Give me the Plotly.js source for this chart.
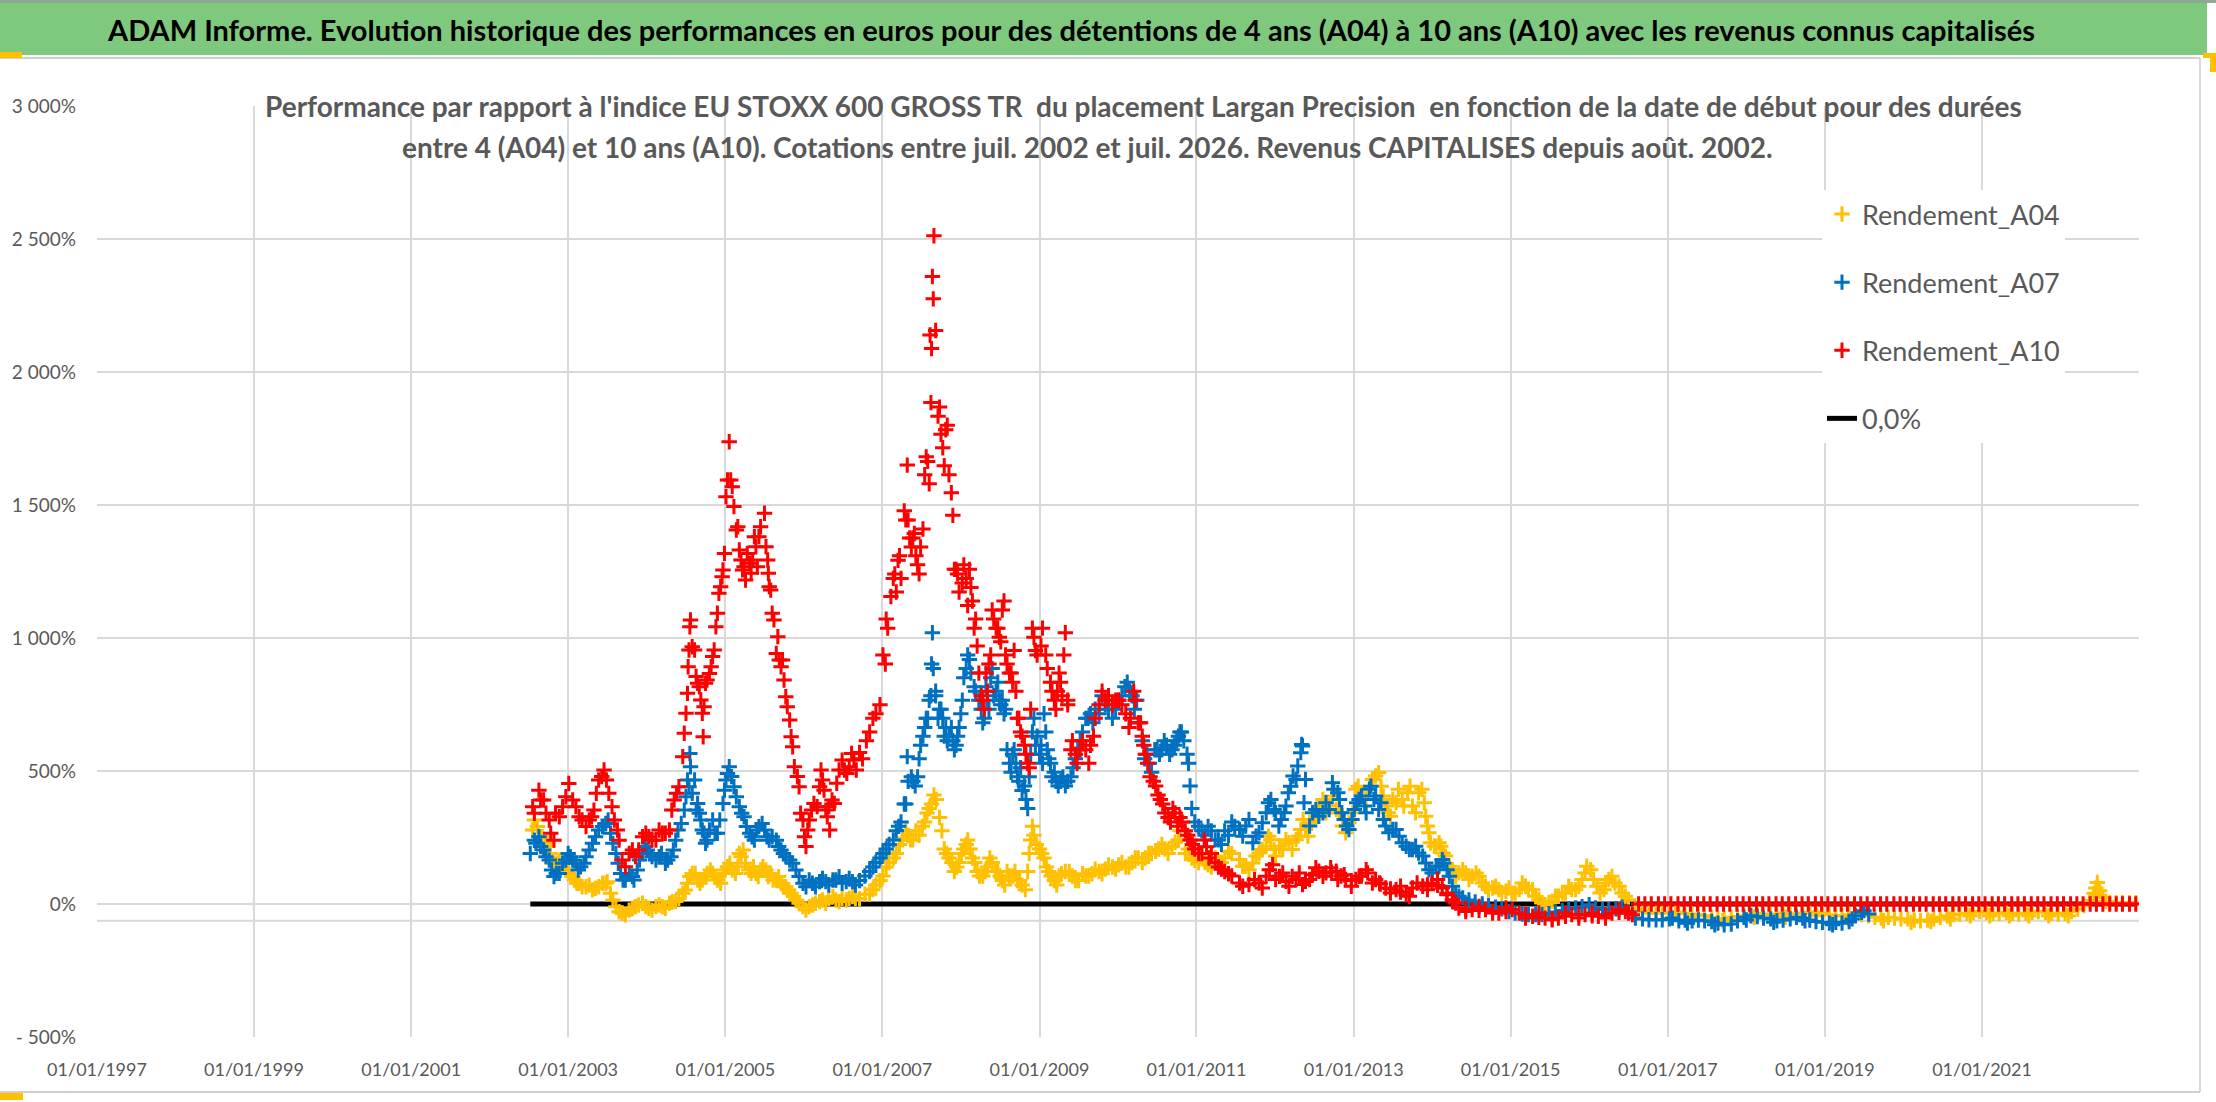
<!DOCTYPE html>
<html>
<head>
<meta charset="utf-8">
<script src="https://cdn.plot.ly/plotly-3.0.1.min.js"></script>
<style>
  html, body { margin: 0; padding: 0; background: #ffffff; }
  #graph { width: 2216px; height: 1102px; }
</style>
</head>
<body>
<div id="graph"></div>
<script>
// start dates are kept as decimal years, values in %
var a04Years = [2002.55, 2002.61, 2002.67, 2002.74, 2002.80, 2002.86, 2002.93, 2003.01, 2003.08, 2003.14, 2003.23, 2003.31, 2003.39, 2003.48, 2003.54, 2003.61, 2003.69, 2003.78, 2003.86, 2003.95,
    2004.03, 2004.12, 2004.20, 2004.29, 2004.37, 2004.46, 2004.52, 2004.58, 2004.65, 2004.71, 2004.77, 2004.84, 2004.90, 2004.97, 2005.03, 2005.09, 2005.16, 2005.20, 2005.26, 2005.33,
    2005.39, 2005.45, 2005.52, 2005.58, 2005.65, 2005.71, 2005.77, 2005.84, 2005.90, 2005.99, 2006.07, 2006.15, 2006.24, 2006.32, 2006.41, 2006.49, 2006.58, 2006.66, 2006.71, 2006.84,
    2006.92, 2007.01, 2007.09, 2007.18, 2007.26, 2007.33, 2007.39, 2007.47, 2007.54, 2007.60, 2007.66, 2007.73, 2007.79, 2007.85, 2007.92, 2007.98, 2008.04, 2008.09, 2008.15, 2008.21,
    2008.28, 2008.34, 2008.40, 2008.47, 2008.53, 2008.59, 2008.66, 2008.72, 2008.78, 2008.85, 2008.89, 2008.93, 2009.00, 2009.06, 2009.12, 2009.19, 2009.25, 2009.33, 2009.42, 2009.50,
    2009.59, 2009.67, 2009.76, 2009.84, 2009.93, 2010.01, 2010.10, 2010.18, 2010.26, 2010.35, 2010.43, 2010.52, 2010.60, 2010.69, 2010.77, 2010.86, 2010.94, 2011.03, 2011.11, 2011.19,
    2011.28, 2011.36, 2011.45, 2011.55, 2011.63, 2011.72, 2011.80, 2011.89, 2011.95, 2012.01, 2012.10, 2012.18, 2012.27, 2012.33, 2012.39, 2012.46, 2012.52, 2012.61, 2012.69, 2012.78,
    2012.86, 2012.94, 2013.03, 2013.11, 2013.20, 2013.28, 2013.35, 2013.41, 2013.47, 2013.54, 2013.62, 2013.69, 2013.75, 2013.83, 2013.90, 2013.94, 2013.98, 2014.05, 2014.11, 2014.17,
    2014.26, 2014.34, 2014.43, 2014.51, 2014.60, 2014.68, 2014.77, 2014.85, 2014.94, 2015.02, 2015.11, 2015.19, 2015.28, 2015.36, 2015.44, 2015.53, 2015.61, 2015.70, 2015.78, 2015.87,
    2015.95, 2016.02, 2016.10, 2016.19, 2016.25, 2016.33, 2016.42, 2016.50, 2016.59, 2016.68, 2016.76, 2016.85, 2016.93, 2017.02, 2017.10, 2017.14, 2017.22, 2017.31, 2017.39, 2017.47,
    2017.56, 2017.64, 2017.72, 2017.81, 2017.89, 2017.97, 2018.06, 2018.14, 2018.22, 2018.31, 2018.39, 2018.47, 2018.56, 2018.64, 2018.72, 2018.81, 2018.89, 2018.97, 2019.06, 2019.14,
    2019.22, 2019.31, 2019.39, 2019.47, 2019.56, 2019.64, 2019.72, 2019.81, 2019.89, 2019.97, 2020.06, 2020.14, 2020.22, 2020.31, 2020.39, 2020.47, 2020.56, 2020.64, 2020.72, 2020.81,
    2020.89, 2020.97, 2021.06, 2021.14, 2021.22, 2021.31, 2021.39, 2021.47, 2021.56, 2021.64, 2021.72, 2021.81, 2021.89, 2021.97, 2022.06, 2022.14, 2022.22, 2022.30, 2022.37, 2022.43,
    2022.47, 2022.50, 2022.54, 2022.58, 2022.63, 2022.71, 2022.79, 2022.88, 2022.96];
var a04Values = [278, 291, 253, 216, 153, 153, 140, 115, 90, 78, 65, 53, 65, 78, 40, -10, -35, -23, -10, 3,
    -16, -10, -10, 3, 9, 40, 78, 115, 90, 90, 115, 115, 90, 115, 140, 128, 140, 178, 153, 115,
    115, 128, 128, 115, 90, 78, 65, 40, 15, -10, -10, 3, 15, 21, 15, 21, 21, 21, 20, 37,
    71, 105, 156, 190, 241, 258, 241, 258, 308, 359, 410, 325, 207, 173, 122, 156, 207, 241, 173, 122,
    105, 139, 156, 122, 88, 122, 105, 88, 71, 122, 241, 258, 207, 173, 122, 88, 105, 122, 105, 88,
    105, 114, 122, 131, 139, 147, 139, 156, 173, 173, 190, 207, 207, 215, 241, 190, 173, 156, 156, 139,
    156, 173, 190, 167, 142, 154, 192, 217, 242, 180, 205, 230, 242, 280, 280, 305, 330, 393, 368, 355,
    293, 305, 431, 418, 443, 481, 443, 368, 330, 381, 393, 418, 368, 418, 381, 293, 230, 217, 217, 180,
    129, 117, 117, 104, 104, 67, 60, 54, 48, 41, 54, 67, 54, 16, -3, 10, 29, 41, 54, 67,
    117, 129, 67, 54, 92, 79, 41, 16, -21, -28, -34, -34, -34, -34, -34, -31, -35, -38, -40, -44,
    -50, -56, -56, -50, -47, -44, -38, -35, -38, -40, -38, -35, -38, -38, -35, -31, -31, -35, -40, -44,
    -44, -40, -38, -40, -44, -50, -53, -50, -53, -56, -56, -60, -63, -60, -56, -50, -44, -40, -38, -35,
    -31, -28, -31, -35, -35, -31, -35, -38, -35, -31, -28, -31, -35, -38, -35, -28, -19, -6, 13, 40,
    81, 50, 25, 10, 6, 5, 5, 5, 5];
// second reading pass across the width of the A04 band: [year, %]
var a04Band = [[2002.57, 316], [2002.64, 253], [2002.71, 228], [2002.77, 190], [2002.83, 153], [2002.89, 165], [2002.97, 128], [2003.05, 103], [2003.11, 78], [2003.18, 65],
    [2003.27, 71], [2003.35, 59], [2003.44, 78], [2003.50, 84], [2003.57, 15], [2003.65, -29], [2003.73, -41], [2003.82, -16], [2003.90, -4], [2003.99, -10],
    [2004.07, -23], [2004.16, -4], [2004.24, -16], [2004.33, 9], [2004.41, 21], [2004.49, 53], [2004.55, 103], [2004.62, 115], [2004.68, 78], [2004.75, 103],
    [2004.81, 128], [2004.87, 103], [2004.94, 78], [2005.00, 128], [2005.06, 153], [2005.13, 115], [2005.18, 190], [2005.23, 203], [2005.30, 128], [2005.36, 140],
    [2005.42, 103], [2005.48, 140], [2005.55, 103], [2005.61, 90], [2005.68, 103], [2005.74, 65], [2005.81, 53], [2005.87, 28], [2005.94, 3], [2006.03, -23],
    [2006.11, -4], [2006.20, 9], [2006.28, 3], [2006.37, 28], [2006.45, 9], [2006.54, 15], [2006.62, 28], [2006.78, 37], [2006.88, 54], [2006.97, 88],
    [2007.05, 139], [2007.14, 173], [2007.22, 224], [2007.30, 275], [2007.36, 241], [2007.43, 275], [2007.51, 292], [2007.57, 342], [2007.63, 376], [2007.69, 393],
    [2007.76, 275], [2007.82, 190], [2007.89, 156], [2007.95, 139], [2008.01, 190], [2008.07, 224], [2008.12, 207], [2008.18, 156], [2008.24, 105], [2008.31, 122],
    [2008.37, 173], [2008.44, 122], [2008.50, 105], [2008.56, 71], [2008.62, 105], [2008.69, 122], [2008.75, 88], [2008.82, 54], [2008.87, 190], [2008.91, 292],
    [2008.96, 224], [2009.03, 190], [2009.09, 139], [2009.15, 105], [2009.22, 71], [2009.28, 114], [2009.38, 122], [2009.46, 88], [2009.55, 114], [2009.63, 105],
    [2009.71, 131], [2009.80, 114], [2009.88, 147], [2009.97, 131], [2010.05, 156], [2010.14, 139], [2010.22, 173], [2010.31, 156], [2010.39, 190], [2010.48, 198],
    [2010.56, 224], [2010.64, 190], [2010.73, 232], [2010.79, 275], [2010.90, 207], [2010.98, 164], [2011.07, 190], [2011.15, 147], [2011.24, 173], [2011.32, 156],
    [2011.41, 198], [2011.59, 142], [2011.67, 129], [2011.76, 180], [2011.84, 205], [2011.92, 255], [2011.99, 205], [2012.06, 217], [2012.14, 242], [2012.22, 205],
    [2012.30, 255], [2012.36, 318], [2012.42, 255], [2012.49, 318], [2012.56, 368], [2012.65, 343], [2012.73, 406], [2012.82, 343], [2012.90, 268], [2012.99, 343],
    [2013.06, 443], [2013.16, 393], [2013.24, 468], [2013.32, 494], [2013.38, 406], [2013.44, 343], [2013.50, 393], [2013.57, 431], [2013.64, 368], [2013.72, 443],
    [2013.79, 343], [2013.87, 431], [2013.92, 330], [2013.96, 268], [2014.03, 217], [2014.09, 230], [2014.14, 192], [2014.22, 142], [2014.30, 104], [2014.39, 129],
    [2014.47, 92], [2014.56, 117], [2014.64, 79], [2014.72, 54], [2014.81, 67], [2014.89, 41], [2014.98, 60], [2015.06, 41], [2015.15, 79], [2015.23, 54],
    [2015.32, 29], [2015.40, 4], [2015.49, 4], [2015.57, 29], [2015.66, 41], [2015.74, 67], [2015.83, 54], [2015.91, 92], [2015.97, 142], [2016.06, 92],
    [2016.14, 41], [2016.21, 79], [2016.29, 104], [2016.38, 67], [2016.46, 29], [2017.30, -50], [2017.70, -63], [2018.10, -50], [2018.50, -50], [2018.90, -44],
    [2019.30, -56], [2019.75, -63], [2020.10, -69], [2020.35, -66], [2020.60, -56], [2020.85, -44], [2021.10, -44], [2021.35, -44], [2021.60, -44], [2021.85, -44],
    [2022.10, -44], [2022.45, 60], [2022.46, 30]];

var a07Years = [2002.52, 2002.59, 2002.63, 2002.69, 2002.76, 2002.82, 2002.89, 2002.97, 2003.03, 2003.10, 2003.16, 2003.23, 2003.31, 2003.39, 2003.48, 2003.54, 2003.61, 2003.67, 2003.73, 2003.82,
    2003.88, 2003.95, 2004.01, 2004.07, 2004.16, 2004.24, 2004.31, 2004.37, 2004.44, 2004.48, 2004.52, 2004.55, 2004.56, 2004.61, 2004.65, 2004.69, 2004.73, 2004.77, 2004.84, 2004.90,
    2004.97, 2005.01, 2005.05, 2005.11, 2005.18, 2005.24, 2005.31, 2005.37, 2005.43, 2005.50, 2005.56, 2005.65, 2005.71, 2005.77, 2005.86, 2005.94, 2006.03, 2006.11, 2006.20, 2006.28,
    2006.37, 2006.45, 2006.54, 2006.62, 2006.71, 2006.84, 2006.92, 2007.01, 2007.09, 2007.18, 2007.24, 2007.28, 2007.32, 2007.33, 2007.39, 2007.45, 2007.49, 2007.54, 2007.58, 2007.62,
    2007.64, 2007.65, 2007.68, 2007.73, 2007.77, 2007.81, 2007.85, 2007.90, 2007.94, 2007.98, 2008.02, 2008.07, 2008.11, 2008.17, 2008.23, 2008.28, 2008.32, 2008.36, 2008.40, 2008.45,
    2008.49, 2008.53, 2008.57, 2008.62, 2008.66, 2008.70, 2008.74, 2008.78, 2008.83, 2008.87, 2008.91, 2008.95, 2009.00, 2009.04, 2009.08, 2009.12, 2009.16, 2009.21, 2009.27, 2009.33,
    2009.40, 2009.46, 2009.52, 2009.59, 2009.65, 2009.71, 2009.80, 2009.88, 2009.97, 2010.05, 2010.12, 2010.18, 2010.24, 2010.31, 2010.37, 2010.43, 2010.50, 2010.56, 2010.62, 2010.69,
    2010.75, 2010.79, 2010.84, 2010.90, 2010.92, 2010.94, 2010.98, 2011.07, 2011.15, 2011.24, 2011.32, 2011.41, 2011.49, 2011.55, 2011.63, 2011.72, 2011.80, 2011.89, 2011.95, 2012.01,
    2012.08, 2012.14, 2012.20, 2012.27, 2012.33, 2012.34, 2012.37, 2012.44, 2012.52, 2012.61, 2012.69, 2012.75, 2012.82, 2012.88, 2012.94, 2013.01, 2013.07, 2013.14, 2013.20, 2013.28,
    2013.35, 2013.41, 2013.50, 2013.58, 2013.67, 2013.75, 2013.83, 2013.92, 2014.00, 2014.09, 2014.15, 2014.22, 2014.30, 2014.39, 2014.47, 2014.55, 2014.64, 2014.72, 2014.81, 2014.89,
    2014.98, 2015.06, 2015.15, 2015.23, 2015.32, 2015.40, 2015.49, 2015.57, 2015.66, 2015.74, 2015.83, 2015.91, 2016.00, 2016.08, 2016.17, 2016.25, 2016.34, 2016.42, 2016.50, 2016.59,
    2016.68, 2016.76, 2016.85, 2016.93, 2017.02, 2017.06, 2017.14, 2017.22, 2017.31, 2017.39, 2017.47, 2017.56, 2017.64, 2017.72, 2017.81, 2017.89, 2017.97, 2018.06, 2018.14, 2018.22,
    2018.31, 2018.39, 2018.47, 2018.56, 2018.64, 2018.72, 2018.81, 2018.89, 2018.97, 2019.06, 2019.14, 2019.22, 2019.31, 2019.39, 2019.47, 2019.56];
var a07Values = [190, 228, 253, 203, 165, 103, 115, 165, 178, 153, 140, 178, 228, 278, 303, 266, 190, 115, 90, 103,
    128, 190, 203, 178, 178, 153, 178, 240, 303, 353, 466, 566, 516, 466, 378, 316, 266, 240, 316, 266,
    378, 466, 516, 441, 366, 328, 266, 240, 291, 278, 240, 240, 203, 178, 153, 103, 65, 78, 84, 84,
    90, 103, 84, 84, 88, 122, 156, 190, 224, 275, 308, 376, 554, 461, 461, 478, 597, 664, 698, 783,
    1020, 885, 800, 732, 698, 664, 631, 614, 597, 664, 766, 885, 919, 817, 766, 681, 817, 732, 885, 800,
    766, 766, 732, 529, 563, 529, 461, 427, 393, 478, 647, 597, 563, 529, 647, 546, 478, 461, 461, 444,
    478, 546, 614, 698, 715, 732, 783, 732, 732, 783, 834, 783, 766, 614, 563, 495, 580, 580, 597, 580,
    614, 647, 614, 529, 444, 359, 308, 275, 292, 241, 224, 258, 292, 280, 293, 230, 268, 343, 393, 343,
    318, 368, 443, 468, 569, 600, 381, 293, 355, 343, 355, 431, 393, 318, 280, 355, 393, 368, 431, 406,
    381, 293, 280, 255, 217, 205, 192, 154, 117, 142, 154, 104, 41, 23, 15, 8, 0, -5, -12, -18,
    -28, -34, -38, -40, -40, -40, -36, -30, -24, -18, -15, -10, -3, -15, -21, -21, -18, -12, -30, -53,
    -56, -59, -59, -59, -56, -53, -63, -60, -63, -60, -63, -66, -72, -78, -75, -63, -50, -44, -47, -53,
    -56, -63, -60, -56, -50, -53, -60, -66, -69, -72, -69, -72, -66, -44, -31, -38];
var a07Band = [[2002.57, 240], [2002.65, 216], [2002.72, 178], [2002.79, 128], [2002.85, 115], [2002.93, 153], [2003.00, 190], [2003.06, 165], [2003.13, 128], [2003.20, 153],
    [2003.27, 203], [2003.35, 253], [2003.44, 291], [2003.51, 316], [2003.57, 228], [2003.64, 153], [2003.70, 90], [2003.78, 115], [2003.84, 90], [2003.91, 165],
    [2003.98, 216], [2004.04, 190], [2004.12, 165], [2004.19, 190], [2004.27, 165], [2004.34, 203], [2004.40, 278], [2004.50, 403], [2004.54, 441], [2004.58, 416],
    [2004.63, 353], [2004.67, 341], [2004.71, 278], [2004.75, 228], [2004.80, 278], [2004.87, 266], [2004.93, 316], [2004.99, 428], [2005.03, 491], [2005.08, 479],
    [2005.14, 403], [2005.21, 341], [2005.27, 291], [2005.34, 253], [2005.40, 278], [2005.47, 303], [2005.53, 253], [2005.60, 253], [2005.68, 216], [2005.74, 190],
    [2005.82, 165], [2005.90, 128], [2005.99, 78], [2006.07, 90], [2006.15, 65], [2006.24, 96], [2006.32, 71], [2006.41, 90], [2006.49, 78], [2006.58, 96],
    [2006.66, 71], [2006.78, 105], [2006.88, 139], [2006.97, 173], [2007.05, 207], [2007.14, 241], [2007.21, 292], [2007.30, 376], [2007.37, 478], [2007.42, 444],
    [2007.47, 546], [2007.52, 631], [2007.56, 698], [2007.60, 766], [2007.63, 902], [2007.68, 783], [2007.71, 698], [2007.75, 732], [2007.79, 631], [2007.83, 614],
    [2007.88, 664], [2007.92, 580], [2007.96, 631], [2008.00, 715], [2008.04, 851], [2008.09, 936], [2008.13, 868], [2008.19, 800], [2008.26, 732], [2008.30, 698],
    [2008.34, 766], [2008.38, 851], [2008.42, 783], [2008.47, 834], [2008.51, 749], [2008.55, 715], [2008.59, 580], [2008.64, 495], [2008.68, 580], [2008.72, 478],
    [2008.76, 512], [2008.81, 444], [2008.85, 359], [2008.89, 563], [2008.93, 698], [2008.97, 631], [2009.02, 597], [2009.06, 715], [2009.10, 580], [2009.14, 529],
    [2009.19, 495], [2009.24, 444], [2009.30, 478], [2009.36, 461], [2009.43, 512], [2009.49, 580], [2009.55, 647], [2009.62, 698], [2009.68, 681], [2009.76, 715],
    [2009.84, 749], [2009.93, 698], [2010.01, 766], [2010.09, 817], [2010.15, 800], [2010.21, 732], [2010.27, 681], [2010.34, 546], [2010.40, 529], [2010.47, 580],
    [2010.53, 563], [2010.59, 614], [2010.66, 563], [2010.72, 597], [2010.77, 631], [2010.81, 647], [2010.88, 563], [2011.03, 292], [2011.11, 258], [2011.19, 275],
    [2011.28, 241], [2011.36, 275], [2011.45, 308], [2011.59, 255], [2011.67, 318], [2011.76, 255], [2011.84, 305], [2011.92, 381], [2011.99, 355], [2012.05, 293],
    [2012.12, 343], [2012.17, 418], [2012.23, 481], [2012.29, 519], [2012.35, 594], [2012.39, 468], [2012.48, 343], [2012.56, 330], [2012.65, 381], [2012.73, 456],
    [2012.80, 418], [2012.85, 343], [2012.91, 293], [2012.98, 318], [2013.04, 381], [2013.10, 406], [2013.16, 343], [2013.22, 443], [2013.26, 393], [2013.32, 355],
    [2013.38, 318], [2013.45, 268], [2013.54, 280], [2013.62, 230], [2013.71, 205], [2013.79, 217], [2013.88, 180], [2013.96, 129], [2014.05, 142], [2014.13, 167],
    [2014.19, 129], [2014.26, 67], [2014.34, 29], [2017.25, -72], [2017.60, -78], [2018.00, -60], [2018.35, -69], [2018.75, -63], [2019.10, -78], [2019.35, -56],
    [2019.50, -25]];

var a10Years = [2002.55, 2002.63, 2002.69, 2002.76, 2002.82, 2002.84, 2002.93, 2003.01, 2003.10, 2003.18, 2003.27, 2003.33, 2003.39, 2003.46, 2003.52, 2003.59, 2003.65, 2003.69, 2003.78, 2003.86,
    2003.95, 2004.03, 2004.12, 2004.20, 2004.29, 2004.35, 2004.41, 2004.46, 2004.48, 2004.50, 2004.52, 2004.54, 2004.56, 2004.61, 2004.63, 2004.67, 2004.71, 2004.72, 2004.75, 2004.80,
    2004.84, 2004.88, 2004.92, 2004.96, 2004.99, 2005.01, 2005.05, 2005.07, 2005.11, 2005.14, 2005.18, 2005.22, 2005.26, 2005.31, 2005.35, 2005.39, 2005.43, 2005.50, 2005.54, 2005.56,
    2005.60, 2005.67, 2005.69, 2005.73, 2005.77, 2005.82, 2005.86, 2005.92, 2005.96, 2006.01, 2006.03, 2006.07, 2006.13, 2006.20, 2006.24, 2006.28, 2006.32, 2006.33, 2006.39, 2006.45,
    2006.52, 2006.58, 2006.64, 2006.71, 2006.80, 2006.88, 2006.97, 2007.01, 2007.07, 2007.11, 2007.16, 2007.20, 2007.24, 2007.28, 2007.32, 2007.33, 2007.35, 2007.39, 2007.43, 2007.47,
    2007.52, 2007.54, 2007.58, 2007.62, 2007.63, 2007.65, 2007.66, 2007.68, 2007.73, 2007.77, 2007.81, 2007.85, 2007.90, 2007.92, 2007.96, 2008.02, 2008.07, 2008.11, 2008.15, 2008.19,
    2008.23, 2008.26, 2008.30, 2008.34, 2008.38, 2008.42, 2008.47, 2008.51, 2008.55, 2008.59, 2008.64, 2008.68, 2008.72, 2008.76, 2008.81, 2008.85, 2008.87, 2008.89, 2008.91, 2008.95,
    2009.02, 2009.08, 2009.14, 2009.19, 2009.23, 2009.27, 2009.31, 2009.36, 2009.40, 2009.46, 2009.52, 2009.59, 2009.65, 2009.69, 2009.76, 2009.84, 2009.93, 2010.01, 2010.10, 2010.16,
    2010.22, 2010.26, 2010.31, 2010.35, 2010.41, 2010.48, 2010.54, 2010.60, 2010.67, 2010.73, 2010.79, 2010.86, 2010.92, 2010.98, 2011.07, 2011.13, 2011.19, 2011.28, 2011.36, 2011.45,
    2011.55, 2011.67, 2011.80, 2011.89, 2011.97, 2012.06, 2012.14, 2012.22, 2012.31, 2012.39, 2012.48, 2012.56, 2012.65, 2012.72, 2012.78, 2012.84, 2012.90, 2012.97, 2013.03, 2013.10,
    2013.18, 2013.28, 2013.34, 2013.41, 2013.47, 2013.54, 2013.60, 2013.67, 2013.75, 2013.88, 2013.94, 2014.00, 2014.07, 2014.13, 2014.19, 2014.26, 2014.34, 2014.43, 2014.51, 2014.60,
    2014.68, 2014.77, 2014.85, 2014.94, 2015.02, 2015.11, 2015.19, 2015.28, 2015.36, 2015.44, 2015.53, 2015.61, 2015.70, 2015.78, 2015.87, 2015.95, 2016.04, 2016.12, 2016.21, 2016.29,
    2016.38, 2016.46, 2016.55];
var a10Values = [366, 428, 391, 316, 240, 341, 366, 453, 366, 316, 316, 353, 466, 504, 416, 316, 240, 165, 190, 178,
    253, 253, 240, 266, 278, 391, 441, 554, 642, 717, 792, 955, 1068, 955, 855, 817, 717, 629, 830, 867,
    930, 1042, 1168, 1230, 1318, 1531, 1738, 1594, 1494, 1406, 1331, 1256, 1218, 1281, 1293, 1343, 1381, 1469, 1293, 1193,
    1093, 1005, 917, 917, 779, 692, 591, 479, 341, 253, 216, 316, 378, 441, 466, 353, 366, 278, 378, 504,
    504, 516, 541, 570, 614, 698, 749, 936, 1037, 1156, 1241, 1292, 1224, 1478, 1650, 1444, 1376, 1376, 1309, 1241,
    1410, 1614, 1664, 1885, 2088, 2275, 2512, 2156, 1868, 1715, 1783, 1614, 1461, 1258, 1241, 1207, 1224, 1258, 1139, 1071,
    868, 783, 732, 800, 936, 1071, 1037, 986, 1139, 902, 868, 953, 698, 647, 597, 529, 512, 732, 1037, 953,
    970, 936, 834, 766, 800, 834, 936, 766, 580, 563, 580, 580, 597, 631, 749, 766, 749, 766, 715, 698,
    766, 681, 631, 563, 478, 444, 393, 342, 308, 342, 325, 275, 241, 207, 190, 215, 190, 139, 122, 105,
    79, 73, 79, 104, 148, 104, 85, 104, 117, 85, 110, 123, 117, 120, 123, 105, 92, 88, 92, 105,
    117, 92, 75, 60, 57, 54, 45, 35, 60, 67, 72, 79, 70, 60, 40, 16, -15, -18, -21, -24,
    -21, -28, -34, -28, -21, -34, -40, -46, -50, -53, -56, -53, -46, -40, -40, -40, -44, -46, -40, -34,
    -31, -28, -40];
var a10Band = [[2002.57, 341], [2002.65, 391], [2002.72, 341], [2002.78, 266], [2002.89, 328], [2002.97, 403], [2003.06, 391], [2003.14, 328], [2003.23, 291], [2003.30, 328],
    [2003.36, 416], [2003.43, 479], [2003.49, 466], [2003.56, 366], [2003.63, 278], [2003.73, 140], [2003.82, 203], [2003.90, 203], [2003.99, 266], [2004.07, 240],
    [2004.16, 278], [2004.24, 266], [2004.32, 353], [2004.38, 416], [2004.53, 892], [2004.55, 1042], [2004.58, 967], [2004.65, 830], [2004.69, 767], [2004.73, 742],
    [2004.77, 842], [2004.82, 892], [2004.86, 955], [2004.90, 1093], [2004.94, 1193], [2004.97, 1256], [2005.03, 1594], [2005.09, 1569], [2005.16, 1418], [2005.20, 1293],
    [2005.24, 1268], [2005.28, 1318], [2005.33, 1243], [2005.37, 1381], [2005.41, 1268], [2005.45, 1418], [2005.52, 1343], [2005.55, 1243], [2005.58, 1180], [2005.62, 1068],
    [2005.65, 942], [2005.71, 892], [2005.75, 842], [2005.79, 742], [2005.84, 629], [2005.88, 516], [2005.94, 441], [2005.99, 316], [2006.05, 278], [2006.10, 353],
    [2006.17, 366], [2006.22, 504], [2006.26, 428], [2006.30, 328], [2006.36, 391], [2006.42, 454], [2006.49, 541], [2006.55, 491], [2006.61, 566], [2006.67, 504],
    [2006.75, 546], [2006.84, 647], [2006.92, 715], [2007.04, 902], [2007.05, 1071], [2007.14, 1224], [2007.18, 1173], [2007.22, 1309], [2007.30, 1444], [2007.37, 1342],
    [2007.41, 1393], [2007.45, 1275], [2007.49, 1342], [2007.56, 1681], [2007.60, 1580], [2007.61, 2139], [2007.64, 2359], [2007.71, 1834], [2007.75, 1766], [2007.79, 1648],
    [2007.83, 1800], [2007.88, 1546], [2007.94, 1258], [2007.98, 1173], [2008.04, 1275], [2008.09, 1122], [2008.13, 1190], [2008.17, 1037], [2008.21, 970], [2008.28, 766],
    [2008.32, 868], [2008.36, 902], [2008.40, 1105], [2008.45, 1037], [2008.49, 1003], [2008.53, 1105], [2008.57, 936], [2008.62, 868], [2008.66, 834], [2008.70, 800],
    [2008.74, 698], [2008.78, 631], [2008.83, 563], [2008.93, 1003], [2008.97, 936], [2009.04, 1037], [2009.10, 885], [2009.16, 800], [2009.21, 732], [2009.25, 868],
    [2009.29, 783], [2009.33, 1020], [2009.36, 749], [2009.42, 614], [2009.48, 529], [2009.55, 614], [2009.63, 529], [2009.71, 698], [2009.80, 800], [2009.88, 783],
    [2009.97, 766], [2010.05, 749], [2010.14, 664], [2010.20, 800], [2010.29, 681], [2010.33, 597], [2010.38, 529], [2010.45, 461], [2010.51, 410], [2010.57, 376],
    [2010.64, 325], [2010.70, 359], [2010.76, 292], [2010.82, 308], [2010.89, 258], [2010.95, 224], [2011.03, 190], [2011.10, 241], [2011.16, 173], [2011.24, 156],
    [2011.32, 131], [2011.41, 114], [2011.59, 67], [2011.74, 92], [2011.84, 60], [2011.93, 129], [2012.01, 92], [2012.10, 117], [2012.18, 67], [2012.27, 92],
    [2012.35, 73], [2012.44, 92], [2012.52, 136], [2012.61, 104], [2012.71, 136], [2012.80, 92], [2012.88, 110], [2012.97, 67], [2013.07, 104], [2013.16, 129],
    [2013.24, 79], [2013.33, 79], [2013.47, 41], [2013.60, 67], [2013.71, 29], [2013.81, 79], [2013.94, 54], [2014.07, 92], [2014.19, 35], [2014.30, 4],
    [2014.43, -28], [2014.60, -9], [2014.77, -34], [2014.94, -15], [2015.19, -53], [2015.36, -34], [2015.53, -59], [2015.70, -34], [2015.87, -53], [2016.04, -34],
    [2016.21, -53], [2016.38, -21], [2016.50, -34]];
// after the last A10 start date the series stays at 0
var a10TailYears = [2016.63, 2016.71, 2016.79, 2016.88, 2016.96,
    2017.04, 2017.13, 2017.21, 2017.29, 2017.38, 2017.46, 2017.54, 2017.63, 2017.71, 2017.79, 2017.88, 2017.96,
    2018.04, 2018.13, 2018.21, 2018.29, 2018.38, 2018.46, 2018.54, 2018.63, 2018.71, 2018.79, 2018.88, 2018.96,
    2019.04, 2019.13, 2019.21, 2019.29, 2019.38, 2019.46, 2019.54, 2019.63, 2019.71, 2019.79, 2019.88, 2019.96,
    2020.04, 2020.13, 2020.21, 2020.29, 2020.38, 2020.46, 2020.54, 2020.63, 2020.71, 2020.79, 2020.88, 2020.96,
    2021.04, 2021.13, 2021.21, 2021.29, 2021.38, 2021.46, 2021.54, 2021.63, 2021.71, 2021.79, 2021.88, 2021.96,
    2022.04, 2022.13, 2022.21, 2022.29, 2022.38, 2022.46, 2022.54, 2022.63, 2022.71, 2022.79, 2022.88, 2022.96];
var a10TailValues = [0, 0, 0, 0, 0,
    0, 0, 0, 0, 0, 0, 0, 0, 0, 0, 0, 0,
    0, 0, 0, 0, 0, 0, 0, 0, 0, 0, 0, 0,
    0, 0, 0, 0, 0, 0, 0, 0, 0, 0, 0, 0,
    0, 0, 0, 0, 0, 0, 0, 0, 0, 0, 0, 0,
    0, 0, 0, 0, 0, 0, 0, 0, 0, 0, 0, 0,
    0, 0, 0, 0, 0, 0, 0, 0, 0, 0, 0, 0];

var zeroYears = [2002.52, 2022.96];
var zeroValues = [0, 0];

var seriesNames = ['Rendement_A04', 'Rendement_A07', 'Rendement_A10', '0,0%'];
var seriesColors = ['#FFC000', '#0070C0', '#FF0000', '#000000'];

var xTickYears = [1997, 1999, 2001, 2003, 2005, 2007, 2009, 2011, 2013, 2015, 2017, 2019, 2021];
var yTickValues = [-500, 0, 500, 1000, 1500, 2000, 2500, 3000];
var yTickText = ['- 500%', '0%', '500%', '1 000%', '1 500%', '2 000%', '2 500%', '3 000%'];
var axisCrossValue = -63;

var titleText = "ADAM Informe. Evolution historique des performances en euros pour des détentions de 4 ans (A04) à 10 ans (A10) avec les revenus connus capitalisés";
var subTitle1 = "Performance par rapport à l'indice EU STOXX 600 GROSS TR  du placement Largan Precision  en fonction de la date de début pour des durées";
var subTitle2 = "entre 4 (A04) et 10 ans (A10). Cotations entre juil. 2002 et juil. 2026. Revenus CAPITALISES depuis août. 2002.";

function toDate(y) {
    var yr = Math.floor(y);
    var t0 = Date.UTC(yr, 0, 1), t1 = Date.UTC(yr + 1, 0, 1);
    return new Date(t0 + (y - yr) * (t1 - t0)).toISOString().slice(0, 10);
}

var FONT = 'Lato, "Open Sans", sans-serif';
var GRID = '#D9D9D9';
var TXT = '#595959';

// page geometry (pixels) -> paper coordinates
var W = 2216, H = 1102, ML = 97, MR = 77, MT = 106, MB = 65;
function px(x) { return (x - ML) / (W - ML - MR); }
function py(y) { return (H - MB - y) / (H - MT - MB); }

function crossTrace(i, years, values, band) {
    var xs = years.concat(band.map(function (p) { return p[0]; }));
    var ys = values.concat(band.map(function (p) { return p[1]; }));
    return {
        type: 'scatter',
        mode: 'markers',
        name: seriesNames[i],
        legendgroup: 'g' + i,
        legendrank: i + 1,
        x: xs.map(toDate),
        y: ys,
        marker: {
            symbol: 'cross-thin',
            size: 11,
            color: seriesColors[i],
            line: { color: seriesColors[i], width: 3 }
        },
        hoverinfo: 'skip'
    };
}

var plot_data = [
    {
        type: 'scatter',
        mode: 'lines',
        name: seriesNames[3],
        legendgroup: 'g3',
        legendrank: 4,
        x: zeroYears.map(toDate),
        y: zeroValues,
        line: { color: seriesColors[3], width: 5 },
        hoverinfo: 'skip'
    },
    crossTrace(0, a04Years, a04Values, a04Band),
    crossTrace(1, a07Years, a07Values, a07Band),
    crossTrace(2, a10Years.concat(a10TailYears), a10Values.concat(a10TailValues), a10Band)
];

var layout = {
    width: W,
    height: H,
    paper_bgcolor: '#ffffff',
    plot_bgcolor: '#ffffff',
    font: { family: FONT, color: TXT },
    margin: { l: ML, r: MR, t: MT, b: MB, pad: 0 },
    showlegend: true,
    legend: {
        x: px(1822),
        y: py(190),
        xanchor: 'left',
        yanchor: 'top',
        bgcolor: '#ffffff',
        borderwidth: 0,
        font: { family: FONT, size: 27, color: TXT },
        tracegroupgap: 30,
        itemwidth: 30,
        traceorder: 'grouped'
    },
    xaxis: {
        type: 'date',
        range: [toDate(1997), toDate(2023)],
        tickvals: xTickYears.map(toDate),
        ticktext: xTickYears.map(function (y) { return '01/01/' + y; }),
        showgrid: true,
        gridcolor: GRID,
        gridwidth: 2,
        zeroline: false,
        showline: false,
        ticks: '',
        ticklabelstandoff: 20,
        tickfont: { family: FONT, size: 18, color: TXT },
        fixedrange: true
    },
    yaxis: {
        range: [-500, 3000],
        tickvals: yTickValues,
        ticktext: yTickText,
        showgrid: true,
        gridcolor: GRID,
        gridwidth: 2,
        zeroline: false,
        showline: false,
        ticks: '',
        ticklabelstandoff: 20,
        tickfont: { family: FONT, size: 19, color: TXT },
        fixedrange: true
    },
    shapes: [
        // green title band
        { type: 'rect', xref: 'paper', yref: 'paper', x0: px(0), x1: px(2207), y0: py(3), y1: py(55),
          fillcolor: '#7FC97F', line: { width: 0 } },
        { type: 'rect', xref: 'paper', yref: 'paper', x0: px(0), x1: px(2216), y0: py(0), y1: py(3),
          fillcolor: '#8FA88F', line: { width: 0 } },
        { type: 'line', xref: 'paper', yref: 'paper', x0: px(0), x1: px(2200), y0: py(58), y1: py(58),
          line: { color: '#D0D0D0', width: 2 } },
        { type: 'line', xref: 'paper', yref: 'paper', x0: px(2200), x1: px(2200), y0: py(58), y1: py(1092),
          line: { color: GRID, width: 2 } },
        { type: 'line', xref: 'paper', yref: 'paper', x0: px(0), x1: px(2200), y0: py(1092), y1: py(1092),
          line: { color: '#D0D0D0', width: 2 } },
        { type: 'rect', xref: 'paper', yref: 'paper', x0: px(0), x1: px(22), y0: py(52), y1: py(58),
          fillcolor: '#FFC000', line: { width: 0 } },
        { type: 'rect', xref: 'paper', yref: 'paper', x0: px(0), x1: px(23), y0: py(1093), y1: py(1100),
          fillcolor: '#FFC000', line: { width: 0 } },
        { type: 'rect', xref: 'paper', yref: 'paper', x0: px(2203), x1: px(2216), y0: py(53), y1: py(58),
          fillcolor: '#FFC000', line: { width: 0 } },
        { type: 'rect', xref: 'paper', yref: 'paper', x0: px(2210), x1: px(2216), y0: py(53), y1: py(72),
          fillcolor: '#FFC000', line: { width: 0 } },
        // white box behind the chart title
        { type: 'rect', xref: 'paper', yref: 'paper', x0: px(256), x1: px(2040), y0: py(78), y1: py(172),
          fillcolor: '#ffffff', line: { width: 0 }, layer: 'between' },
        // horizontal axis line
        { type: 'line', xref: 'paper', yref: 'y', x0: 0, x1: 1, y0: axisCrossValue, y1: axisCrossValue,
          line: { color: GRID, width: 2 }, layer: 'below' }
    ],
    annotations: [
        { xref: 'paper', yref: 'paper', x: px(1071), y: py(30), xanchor: 'center', yanchor: 'middle',
          text: titleText, showarrow: false,
          font: { family: FONT, size: 29, color: '#000000', weight: 'bold' } },
        { xref: 'paper', yref: 'paper', x: px(263), y: py(106), xanchor: 'left', yanchor: 'middle',
          text: subTitle1, showarrow: false,
          font: { family: FONT, size: 28, color: TXT, weight: 'bold' } },
        { xref: 'paper', yref: 'paper', x: px(400), y: py(147), xanchor: 'left', yanchor: 'middle',
          text: subTitle2, showarrow: false,
          font: { family: FONT, size: 28, color: TXT, weight: 'bold' } }
    ]
};

Plotly.newPlot('graph', plot_data, layout, { staticPlot: true, displayModeBar: false });
</script>
</body>
</html>
